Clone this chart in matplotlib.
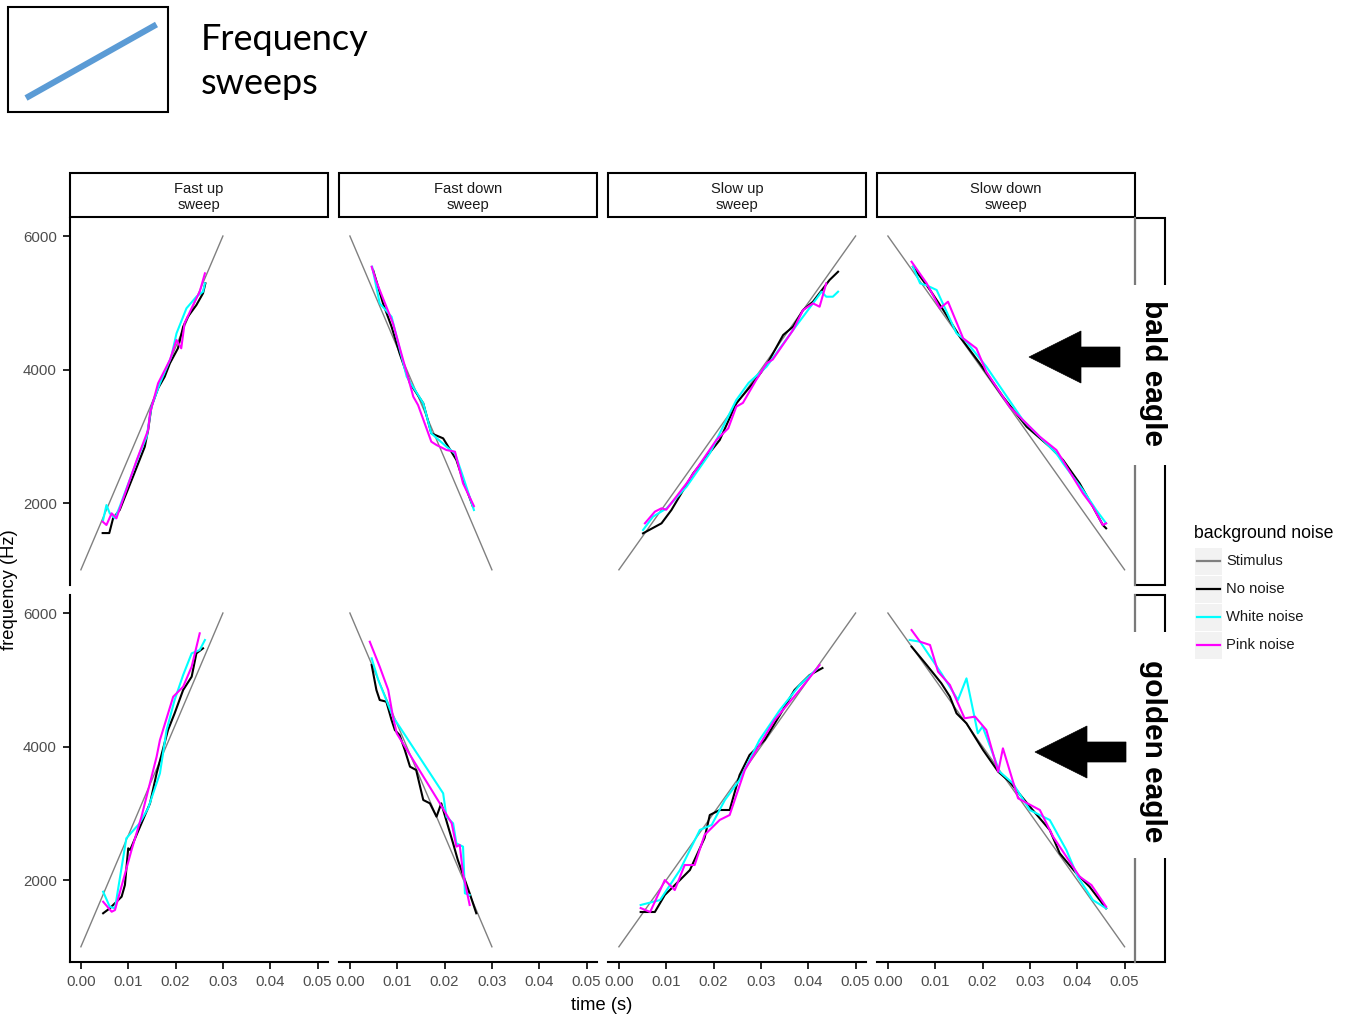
import matplotlib
matplotlib.use("Agg")
import matplotlib.pyplot as plt
from matplotlib.patches import Rectangle, Polygon
from matplotlib.lines import Line2D

W, H = 1348, 1016

# facets
sweeps = ["Fast up\nsweep", "Fast down\nsweep", "Slow up\nsweep", "Slow down\nsweep"]
species = ["bald eagle", "golden eagle"]

# stimulus sweeps (start freq, end freq, duration)
stim_start = [1000, 6000, 1000, 6000]
stim_end = [6000, 1000, 6000, 1000]
stim_dur = [0.03, 0.03, 0.05, 0.05]

noise_names = ["Stimulus", "No noise", "White noise", "Pink noise"]
noise_colors = ["#808080", "#000000", "#00FFFF", "#FF00FF"]

xticks = [0.0, 0.01, 0.02, 0.03, 0.04, 0.05]
xtick_labels = ["0.00", "0.01", "0.02", "0.03", "0.04", "0.05"]
yticks = [2000, 4000, 6000]

# responses (time s, frequency Hz)
bald_fu_none = [(0.0046, 1550), (0.0060, 1550), (0.0068, 1771), (0.0082, 1896), (0.0110, 2394),
                (0.0135, 2844), (0.0142, 3094), (0.0149, 3443), (0.0163, 3718), (0.0177, 3892),
                (0.0188, 4093), (0.0205, 4318), (0.0216, 4641), (0.0226, 4791), (0.0244, 4966),
                (0.0258, 5142), (0.0263, 5291)]
bald_fu_white = [(0.0047, 1746), (0.0054, 1970), (0.0061, 1846), (0.0072, 1771), (0.0082, 1945),
                 (0.0124, 2744), (0.0139, 2993), (0.0149, 3443), (0.0167, 3793), (0.0191, 4192),
                 (0.0202, 4542), (0.0223, 4917), (0.0244, 5091), (0.0258, 5166), (0.0262, 5291)]
bald_fu_pink = [(0.0046, 1721), (0.0054, 1671), (0.0065, 1846), (0.0075, 1771), (0.0086, 1996),
                (0.0118, 2644), (0.0142, 3094), (0.0146, 3344), (0.0163, 3793), (0.0188, 4143),
                (0.0202, 4442), (0.0212, 4318), (0.0219, 4692), (0.0237, 4966), (0.0251, 5166),
                (0.0262, 5441)]

bald_fd_none = [(0.0049, 5491), (0.0070, 4991), (0.0088, 4642), (0.0105, 4243), (0.0127, 3794),
                (0.0155, 3494), (0.0172, 3044), (0.0197, 2969), (0.0225, 2645), (0.0239, 2345),
                (0.0260, 1945)]
bald_fd_white = [(0.0047, 5540), (0.0063, 4991), (0.0088, 4791), (0.0120, 3893), (0.0155, 3494),
                 (0.0172, 3044), (0.0204, 2844), (0.0222, 2744), (0.0239, 2395), (0.0262, 1895)]
bald_fd_pink = [(0.0046, 5540), (0.0056, 5316), (0.0091, 4692), (0.0134, 3593), (0.0144, 3468),
                (0.0172, 2919), (0.0183, 2869), (0.0204, 2794), (0.0222, 2769), (0.0239, 2295),
                (0.0262, 1955)]

bald_su_none = [(0.0051, 1546), (0.0065, 1600), (0.0090, 1696), (0.0111, 1896), (0.0157, 2445),
                (0.0213, 2944), (0.0248, 3494), (0.0283, 3793), (0.0312, 4068), (0.0347, 4517),
                (0.0368, 4642), (0.0389, 4891), (0.0410, 5016), (0.0445, 5341), (0.0463, 5465)]
bald_su_white = [(0.0051, 1596), (0.0072, 1796), (0.0101, 1921), (0.0143, 2245), (0.0192, 2744),
                 (0.0248, 3543), (0.0274, 3800), (0.0312, 4043), (0.0368, 4592), (0.0410, 4991),
                 (0.0428, 5166), (0.0438, 5091), (0.0452, 5091), (0.0463, 5166)]
bald_su_pink = [(0.0055, 1696), (0.0076, 1871), (0.0090, 1921), (0.0100, 1900), (0.0143, 2295),
                (0.0206, 2944), (0.0231, 3119), (0.0248, 3444), (0.0262, 3500), (0.0290, 3843),
                (0.0312, 4093), (0.0325, 4150), (0.0368, 4592), (0.0389, 4891), (0.0410, 4991),
                (0.0424, 4941), (0.0438, 5291)]

bald_sd_none = [(0.0053, 5540), (0.0089, 5191), (0.0117, 4891), (0.0152, 4492), (0.0194, 4093),
                (0.0243, 3593), (0.0293, 3144), (0.0342, 2844), (0.0370, 2645), (0.0405, 2295),
                (0.0433, 1945), (0.0454, 1671), (0.0461, 1621)]
bald_sd_white = [(0.0053, 5540), (0.0068, 5291), (0.0082, 5260), (0.0103, 5191), (0.0145, 4542),
                 (0.0163, 4442), (0.0208, 4043), (0.0285, 3244), (0.0356, 2744), (0.0370, 2595),
                 (0.0412, 2195), (0.0440, 1896), (0.0461, 1696)]
bald_sd_pink = [(0.0050, 5615), (0.0082, 5291), (0.0110, 4917), (0.0127, 5016), (0.0159, 4467),
                (0.0187, 4317), (0.0208, 3967), (0.0257, 3443), (0.0321, 2993), (0.0356, 2794),
                (0.0412, 2145), (0.0433, 1945), (0.0454, 1671), (0.0461, 1696)]

golden_fu_none = [(0.0047, 1502), (0.0061, 1576), (0.0086, 1750), (0.0093, 1925), (0.0100, 2475),
                  (0.0104, 2450), (0.0128, 2850), (0.0146, 3149), (0.0160, 3599), (0.0184, 4247),
                  (0.0198, 4497), (0.0216, 4847), (0.0234, 5046), (0.0244, 5396), (0.0258, 5471)]
golden_fu_white = [(0.0047, 1825), (0.0061, 1600), (0.0072, 1576), (0.0096, 2625), (0.0124, 2850),
                   (0.0142, 3075), (0.0167, 3599), (0.0181, 4247), (0.0198, 4697), (0.0216, 5071),
                   (0.0234, 5396), (0.0251, 5446), (0.0262, 5596)]
golden_fu_pink = [(0.0047, 1675), (0.0065, 1525), (0.0072, 1550), (0.0107, 2450), (0.0128, 2949),
                  (0.0160, 3848), (0.0167, 4098), (0.0195, 4746), (0.0216, 4896), (0.0234, 5196),
                  (0.0251, 5696)]

golden_fd_none = [(0.0046, 5221), (0.0056, 4847), (0.0063, 4697), (0.0077, 4672), (0.0088, 4397),
                  (0.0095, 4247), (0.0105, 4172), (0.0116, 3948), (0.0127, 3698), (0.0140, 3648),
                  (0.0155, 3199), (0.0169, 3149), (0.0183, 2949), (0.0193, 3149), (0.0218, 2550),
                  (0.0228, 2300), (0.0243, 2000), (0.0253, 1801), (0.0267, 1502)]
golden_fd_white = [(0.0046, 5321), (0.0060, 4996), (0.0091, 4447), (0.0197, 3299), (0.0204, 2949),
                   (0.0218, 2850), (0.0225, 2550), (0.0239, 2500), (0.0243, 1801), (0.0253, 1776)]
golden_fd_pink = [(0.0042, 5570), (0.0063, 5196), (0.0081, 4847), (0.0091, 4447), (0.0099, 4197),
                  (0.0190, 3149), (0.0215, 2850), (0.0225, 2500), (0.0232, 2525), (0.0239, 2100),
                  (0.0253, 1626)]

golden_su_none = [(0.0046, 1521), (0.0076, 1521), (0.0097, 1776), (0.0129, 2000), (0.0150, 2150),
                  (0.0181, 2630), (0.0192, 2974), (0.0213, 3049), (0.0234, 3049), (0.0255, 3573),
                  (0.0276, 3873), (0.0308, 4098), (0.0340, 4472), (0.0371, 4847), (0.0403, 5071),
                  (0.0430, 5176)]
golden_su_white = [(0.0046, 1626), (0.0087, 1700), (0.0129, 2150), (0.0171, 2750), (0.0196, 2825),
                   (0.0224, 3200), (0.0255, 3500), (0.0297, 4098), (0.0340, 4547), (0.0382, 4922),
                   (0.0420, 5176)]
golden_su_pink = [(0.0046, 1580), (0.0066, 1521), (0.0097, 2000), (0.0118, 1850), (0.0139, 2225),
                  (0.0160, 2225), (0.0181, 2675), (0.0213, 2900), (0.0234, 2974), (0.0266, 3648),
                  (0.0297, 4023), (0.0329, 4397), (0.0382, 4847), (0.0424, 5221)]

golden_sd_none = [(0.0050, 5496), (0.0082, 5221), (0.0113, 4947), (0.0131, 4747), (0.0145, 4497),
                  (0.0166, 4348), (0.0201, 3948), (0.0233, 3623), (0.0257, 3473), (0.0300, 3098),
                  (0.0342, 2749), (0.0363, 2400), (0.0398, 2100), (0.0426, 1900), (0.0461, 1576)]
golden_sd_white = [(0.0046, 5596), (0.0068, 5570), (0.0113, 5096), (0.0148, 4697), (0.0166, 5021),
                   (0.0190, 4198), (0.0200, 4300), (0.0236, 3623), (0.0264, 3449), (0.0300, 3048),
                   (0.0342, 2899), (0.0377, 2450), (0.0401, 2050), (0.0433, 1700), (0.0461, 1576)]
golden_sd_pink = [(0.0050, 5745), (0.0068, 5570), (0.0089, 5521), (0.0106, 5121), (0.0131, 4922),
                  (0.0162, 4423), (0.0184, 4448), (0.0208, 4248), (0.0233, 3623), (0.0243, 3973),
                  (0.0275, 3224), (0.0321, 3049), (0.0349, 2649), (0.0377, 2350), (0.0405, 2050),
                  (0.0430, 1925), (0.0461, 1600)]

responses = [
    [[bald_fu_none, bald_fu_white, bald_fu_pink],
     [bald_fd_none, bald_fd_white, bald_fd_pink],
     [bald_su_none, bald_su_white, bald_su_pink],
     [bald_sd_none, bald_sd_white, bald_sd_pink]],
    [[golden_fu_none, golden_fu_white, golden_fu_pink],
     [golden_fd_none, golden_fd_white, golden_fd_pink],
     [golden_su_none, golden_su_white, golden_su_pink],
     [golden_sd_none, golden_sd_white, golden_sd_pink]],
]


def fx(x):
    return x / W


def fy(y):
    return 1 - y / H


def px_rect(x0, y0, w, h):
    return [x0 / W, 1 - (y0 + h) / H, w / W, h / H]


plt.rcParams['font.family'] = ['Liberation Sans', 'DejaVu Sans']
fig = plt.figure(figsize=(W / 100, H / 100), dpi=100)

col_x = [70, 339, 608, 877]
row_y = [218, 595]
pw, ph = 258, 367
tick_gray = "#4D4D4D"

for r in range(2):
    for c in range(4):
        ax = fig.add_axes(px_rect(col_x[c], row_y[r], pw, ph))
        ax.set_xlim(-0.0023, 0.0522)
        ax.set_ylim(772, 6270)
        for s in ["top", "right"]:
            ax.spines[s].set_visible(False)
        ax.spines["left"].set_visible(c == 0)
        ax.spines["bottom"].set_visible(r == 1)
        for s in ["left", "bottom"]:
            ax.spines[s].set_linewidth(1.5)
        ax.tick_params(direction="out", length=5, width=1.2, colors="black",
                       labelcolor=tick_gray, labelsize=10.8, pad=4.5)
        if r == 1:
            ax.set_xticks(xticks)
            ax.set_xticklabels(xtick_labels)
        else:
            ax.set_xticks([])
        if c == 0:
            ax.set_yticks(yticks)
            ax.set_yticklabels([str(v) for v in yticks])
        else:
            ax.set_yticks([])

        ax.plot([0, stim_dur[c]], [stim_start[c], stim_end[c]], color=noise_colors[0], lw=1.0)
        for k, series in enumerate(responses[r][c]):
            ts = [p[0] for p in series]
            fs = [p[1] for p in series]
            ax.plot(ts, fs, color=noise_colors[k + 1], lw=1.5)

# top strips
for c in range(4):
    fig.add_artist(Rectangle((fx(col_x[c]), fy(217)), pw / W, 44 / H, transform=fig.transFigure,
                             facecolor="white", edgecolor="black", lw=1.5))
    fig.text(fx(col_x[c] + pw / 2), fy(197), sweeps[c], ha="center", va="center",
             fontsize=10.6, color="#1A1A1A", linespacing=1.15)

# right strips with the big overlaid labels
gaps = [(285, 465), (632, 858)]
label_cy = [373, 751]
for r in range(2):
    fig.add_artist(Rectangle((fx(1135), fy(row_y[r] + ph)), 30 / W, ph / H, transform=fig.transFigure,
                             facecolor="white", edgecolor="black", lw=1.5, zorder=1))
    fig.add_artist(Line2D([fx(1135), fx(1135)], [fy(row_y[r]), fy(row_y[r] + ph)], color="#7A7A7A",
                          lw=1.5, transform=fig.transFigure, zorder=2))
    g0, g1 = gaps[r]
    fig.add_artist(Rectangle((fx(1128), fy(g1)), 44 / W, (g1 - g0) / H, transform=fig.transFigure,
                             facecolor="white", edgecolor="none", zorder=5))
    fig.text(fx(1153), fy(label_cy[r]), species[r], rotation=-90, ha="center", va="center",
             fontsize=21.5, fontweight="bold", color="black", zorder=6)

# arrows
arrow_tip = [(1029, 357), (1035, 752)]
for (tx, ty) in arrow_tip:
    pts = [(tx, ty), (tx + 52, ty - 26), (tx + 52, ty - 10), (tx + 91, ty - 10),
           (tx + 91, ty + 10), (tx + 52, ty + 10), (tx + 52, ty + 26)]
    fig.add_artist(Polygon([(fx(x), fy(y)) for x, y in pts], closed=True, transform=fig.transFigure,
                           facecolor="black", edgecolor="black", lw=0.5))

# legend
fig.text(fx(1194), fy(533), "background noise", ha="left", va="center", fontsize=12.7, color="black")
for k in range(4):
    yc = 561 + 28 * k
    fig.add_artist(Rectangle((fx(1195), fy(yc + 13.5)), 27 / W, 27 / H, transform=fig.transFigure,
                             facecolor="#F2F2F2", edgecolor="none"))
    fig.add_artist(Line2D([fx(1197), fx(1220)], [fy(yc), fy(yc)], color=noise_colors[k], lw=1.6,
                          transform=fig.transFigure))
    fig.text(fx(1226), fy(yc), noise_names[k], ha="left", va="center", fontsize=10.6, color="#1A1A1A")

# axis titles
fig.text(fx(602), fy(1006), "time (s)", ha="center", va="center", fontsize=13.2, color="black")
fig.text(fx(10), fy(590), "frequency (Hz)", rotation=90, ha="center", va="center", fontsize=13.2,
         color="black")

# top-left key box
fig.add_artist(Rectangle((fx(8), fy(112)), 160 / W, 105 / H, transform=fig.transFigure,
                         facecolor="white", edgecolor="black", lw=1.5))
fig.add_artist(Line2D([fx(26), fx(156.5)], [fy(98), fy(24.5)], color="#5B9BD5", lw=4.4,
                      solid_capstyle="butt", transform=fig.transFigure))
fig.text(fx(201), fy(50), "Frequency", ha="left", va="baseline", fontsize=26, family="Lato")
fig.text(fx(201), fy(94), "sweeps", ha="left", va="baseline", fontsize=26, family="Lato")

fig.savefig("out.png", dpi=100)
